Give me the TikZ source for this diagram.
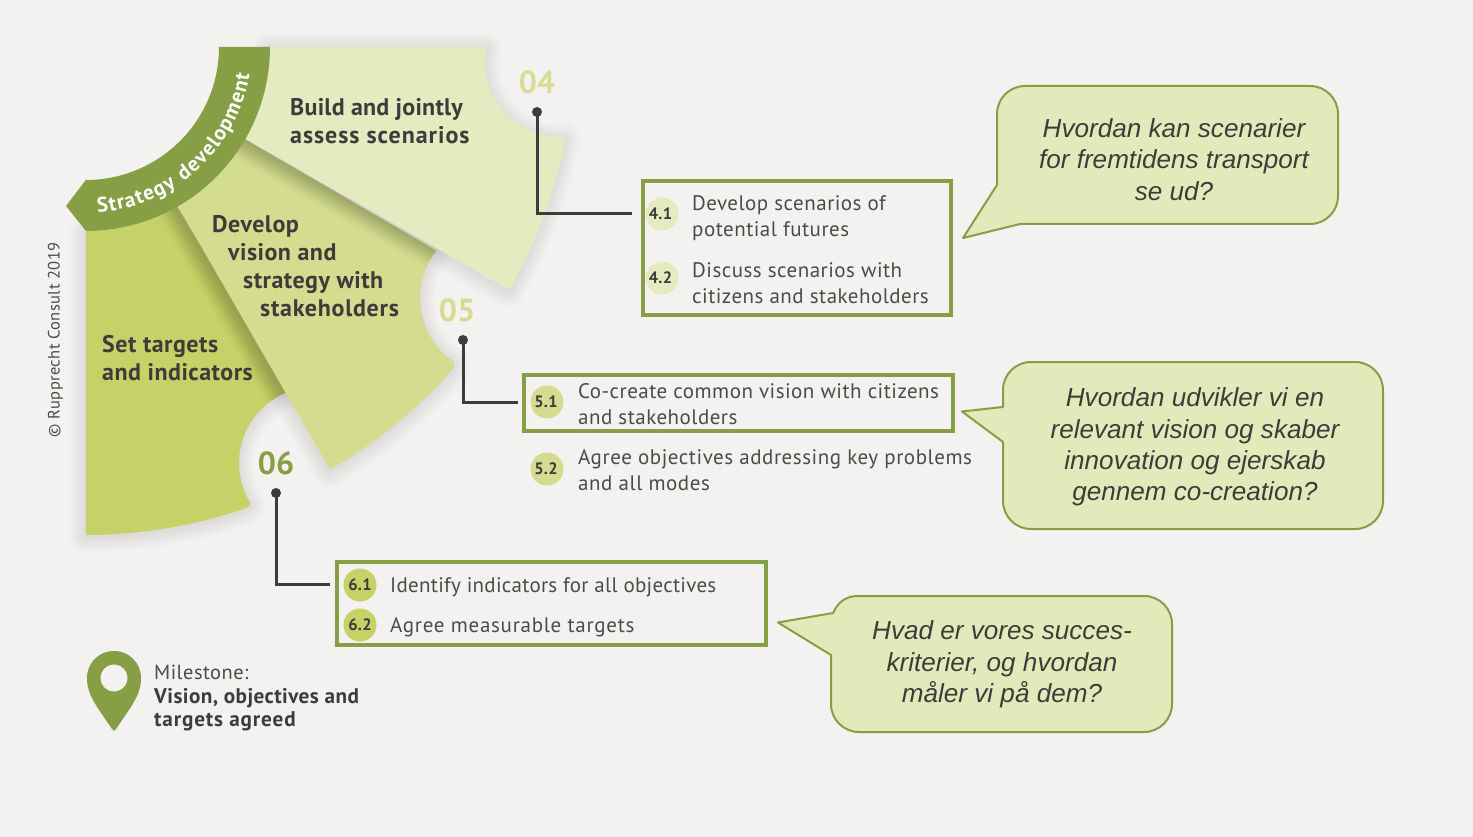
\documentclass[tikz,border=0pt]{standalone}
\usepackage{fontspec}
\usetikzlibrary{decorations.text}
\newfontfamily\din[LetterSpace=2.3]{PT Sans}
\newfontfamily\dinn[LetterSpace=1.3]{PT Sans}
\newfontfamily\dinw[LetterSpace=3.4]{PT Sans}
\newfontfamily\dinx[LetterSpace=2.6]{PT Sans}
\newfontfamily\dinb[LetterSpace=2]{PT Sans Bold}
\newfontfamily\dinbl[LetterSpace=1]{PT Sans Bold}
\newfontfamily\dinbm[LetterSpace=3]{PT Sans Bold}
\newfontfamily\dinbw[LetterSpace=4]{PT Sans Bold}
\newfontfamily\dinc{PT Sans Bold}
\setmainfont{Liberation Sans}
\definecolor{bg}{HTML}{F3F2F0}
\definecolor{wa}{HTML}{E5EBC1}
\definecolor{wb}{HTML}{D3DC8F}
\definecolor{wc}{HTML}{C5D267}
\definecolor{band}{HTML}{869F45}
\definecolor{ink}{HTML}{3E3C3A}
\definecolor{txt}{HTML}{4C4B48}
\definecolor{bub}{HTML}{E2EABC}
\newcommand\warc[5]{-- plot[domain=#4:#5,samples=50,variable=\t]({#1+#3*cos(\t)},{#2+#3*sin(\t)})}
\newcommand\shapeA{(270,47) -- (487,47) \warc{560}{62}{75}{192}{86} \warc{86}{47}{488}{10.6}{29.8} \warc{86}{47}{184}{30}{0} -- cycle}
\newcommand\shapeB{(245,139) -- (430,247) \warc{497}{298}{77}{218}{124} \warc{86}{47}{488}{41}{60} \warc{86}{47}{184}{60}{30} -- cycle}
\newcommand\shapeC{(86,231) -- (86,535) \warc{86}{47}{488}{90}{70.8} \warc{315}{463}{76}{147.5}{250} -- (178,208) \warc{86}{47}{184}{60}{90} -- cycle}
\tikzset{
  softshadow/.style={draw=black,draw opacity=0.009,fill=none,line join=round},
  innershadow/.style={draw=black,draw opacity=0.013,fill=none,line join=round},
  wlabel/.style={anchor=base west,inner sep=0,text=ink,font=\dinb\fontsize{24}{28}\selectfont},
  body/.style={anchor=west,inner sep=0,text=txt,align=left,font=\din\fontsize{21}{26}\selectfont},
  num/.style={circle,inner sep=0,minimum size=33pt,text=ink,font=\dinb\fontsize{16.5}{16.5}\selectfont},
  bignum/.style={inner sep=0,font=\dinc\fontsize{32}{32}\selectfont},
  dotnode/.style={circle,fill=ink,inner sep=0,minimum size=10pt},
  link/.style={draw=ink,line width=3pt},
  frame/.style={draw=band,line width=4pt,fill=none},
  bubble/.style={draw=band,line width=2pt,fill=bub,line join=round},
  ask/.style={inner sep=0,align=center,text=ink,font=\itshape\fontsize{26.1}{31.3}\selectfont},
}
\begin{document}
\begin{tikzpicture}[x=1pt,y=-1pt]
\useasboundingbox (0,0) rectangle (1473,837);
\fill[bg] (0,0) rectangle (1473,837);
% wedge 3
\begin{scope}[shift={(-1,2)}]
\foreach \w in {32,29,...,2}{\draw[softshadow,line width=\w pt] \shapeC;}
\end{scope}
\fill[wc] \shapeC;
% wedge 2 with its shadow
\begin{scope}[shift={(-1,2)}]
\foreach \w in {32,29,...,2}{\draw[softshadow,line width=\w pt] \shapeB;}
\end{scope}
\begin{scope}
\clip \shapeC;
\begin{scope}[shift={(-1,2)}]
\foreach \w in {40,36,...,4}{\draw[innershadow,line width=\w pt] \shapeB;}
\end{scope}
\end{scope}
\fill[wb] \shapeB;
% wedge 1 with its shadow
\begin{scope}[shift={(-1,2)}]
\foreach \w in {32,29,...,2}{\draw[softshadow,line width=\w pt] \shapeA;}
\end{scope}
\begin{scope}
\clip \shapeB;
\begin{scope}[shift={(-1,2)}]
\foreach \w in {40,36,...,4}{\draw[innershadow,line width=\w pt] \shapeA;}
\end{scope}
\end{scope}
\fill[wa] \shapeA;
% band
\fill[band] (86,231) -- (66,206) -- (85,181) \warc{86}{47}{133}{90}{0} -- (270,47) \warc{86}{47}{184}{0}{90} -- cycle;
\path[decorate,decoration={text along path,text align=fit to path,
  text={|\dinc\fontsize{21}{24}\selectfont\color{white}|Strategy}}]
  plot[domain=86:57,samples=120,variable=\t]({86+166*cos(\t)},{47+166*sin(\t)});
\path[decorate,decoration={text along path,text align=fit to path,
  text={|\dinc\fontsize{21}{24}\selectfont\color{white}|development}}]
  plot[domain=54:9.5,samples=160,variable=\t]({86+166*cos(\t)},{47+166*sin(\t)});
% wedge labels
\node[wlabel,font=\dinbl\fontsize{24}{28}\selectfont] (ba) at (290,115.5) {Build and jointly};
\node[wlabel,font=\dinbw\fontsize{24}{28}\selectfont] (bb) at (290,143.5) {assess scenarios};
\node[wlabel] (da) at (212,232.5) {Develop};
\node[wlabel] (db) at (228,260.5) {vision and};
\node[wlabel] (dc) at (243,288.5) {strategy with};
\node[wlabel,font=\dinbm\fontsize{24}{28}\selectfont] (dd) at (260,316.5) {stakeholders};
\node[wlabel] (sa) at (102,352.5) {Set targets};
\node[wlabel] (sb) at (102,380.5) {and indicators};
% big numbers
\node[bignum,text=wb!85!wa] (n4) at (537,82) {04};
\node[bignum,text=wb] (n5) at (457,310) {05};
\node[bignum,text=band] (n6) at (276,463.5) {06};
% copyright
\node[rotate=90,inner sep=0,text=txt,font=\din\fontsize{16.5}{18}\selectfont] (copy) at (55.5,340) {© Rupprecht Consult 2019};
% frames
\draw[frame] (643,181) rectangle (951,315);
\draw[frame] (524,375) rectangle (953,431);
\draw[frame] (337,562) rectangle (766,645);
% connectors
\node[dotnode] (d4) at (537,112) {};
\node[dotnode] (d5) at (463,340) {};
\node[dotnode] (d6) at (276,493) {};
\coordinate (e4) at (632,214);
\coordinate (e5) at (518,402);
\coordinate (e6) at (330,584);
\draw[link] (d4.center) |- (e4);
\draw[link] (d5.center) |- (e5);
\draw[link] (d6.center) |- (e6);
% numbered items
\node[num,fill=wa] (c41) at (662,214) {\kern-3pt4.1};
\node[num,fill=wa] (c42) at (662,278) {\kern-3pt4.2};
\node[num,fill=wb] (c51) at (547,402) {\kern-2pt5.1};
\node[num,fill=wb] (c52) at (547,469) {\kern-2pt5.2};
\node[num,fill=wc] (c61) at (360,585) {6.1};
\node[num,fill=wc] (c62) at (360,625) {6.2};
\node[body] (t41) at (692,218.5) {Develop scenarios of\\potential futures};
\node[body] (t42) at (692,283) {Discuss scenarios with\\citizens and stakeholders};
\node[body] (t51) at (578,404) {Co-create common vision with citizens\\and stakeholders};
\node[body,font=\dinx\fontsize{21}{26}\selectfont] (t52) at (578,470) {Agree objectives addressing key problems\\and all modes};
\node[body,font=\dinn\fontsize{21}{26}\selectfont] (t61) at (390,587) {Identify indicators for all objectives};
\node[body,font=\dinw\fontsize{21}{26}\selectfont] (t62) at (390,627) {Agree measurable targets};
% bubbles
\draw[bubble] (997,185) -- (997,114) .. controls (997,98.5) and (1009.5,86) .. (1025,86) -- (1310,86) .. controls (1325.5,86) and (1338,98.5) .. (1338,114) -- (1338,196) .. controls (1338,211.5) and (1325.5,224) .. (1310,224) -- (1020,224) -- (963,238) -- cycle;
\draw[bubble] (1003,407) -- (1003,390) .. controls (1003,374.5) and (1015.5,362) .. (1031,362) -- (1355,362) .. controls (1370.5,362) and (1383,374.5) .. (1383,390) -- (1383,501) .. controls (1383,516.5) and (1370.5,529) .. (1355,529) -- (1031,529) .. controls (1015.5,529) and (1003,516.5) .. (1003,501) -- (1003,442) -- (962,411.5) -- cycle;
\draw[bubble] (858,596) -- (1144,596) .. controls (1159.5,596) and (1172,608.5) .. (1172,624) -- (1172,704) .. controls (1172,719.5) and (1159.5,732) .. (1144,732) -- (859,732) .. controls (843.5,732) and (831,719.5) .. (831,704) -- (831,655) -- (778,622.5) -- (833,613) .. controls (838,602) and (846,596) .. cycle;
\node[ask] (q1) at (1174,159.5) {Hvordan kan scenarier\\for fremtidens transport\\se ud?};
\node[ask] (q2) at (1195,447) {Hvordan udvikler vi en\\relevant vision og skaber\\innovation og ejerskab\\gennem co-creation?};
\node[ask] (q3) at (1002,664.5) {Hvad er vores succes-\\kriterier, og hvordan\\måler vi på dem?};
% milestone pin
\fill[band,even odd rule] (87,678) .. controls (87,691) and (92,698) .. (97,707) -- (112,729) .. controls (113,731.5) and (115,731.5) .. (116,729) -- (131,707) .. controls (136,698) and (141,691) .. (141,678) \warc{114}{678}{27}{360}{180} -- cycle (127.5,678) \warc{114}{678}{13.5}{0}{360} -- cycle;
\node[anchor=west,inner sep=0,text=txt,font=\din\fontsize{20.4}{24}\selectfont] (m1) at (154,672) {Milestone:};
\node[anchor=west,inner sep=0,text=ink,align=left,font=\dinb\fontsize{21.2}{23.5}\selectfont] (m2) at (154,709.5) {Vision, objectives and\\{\dinbw targets agreed}};
\end{tikzpicture}
\end{document}
